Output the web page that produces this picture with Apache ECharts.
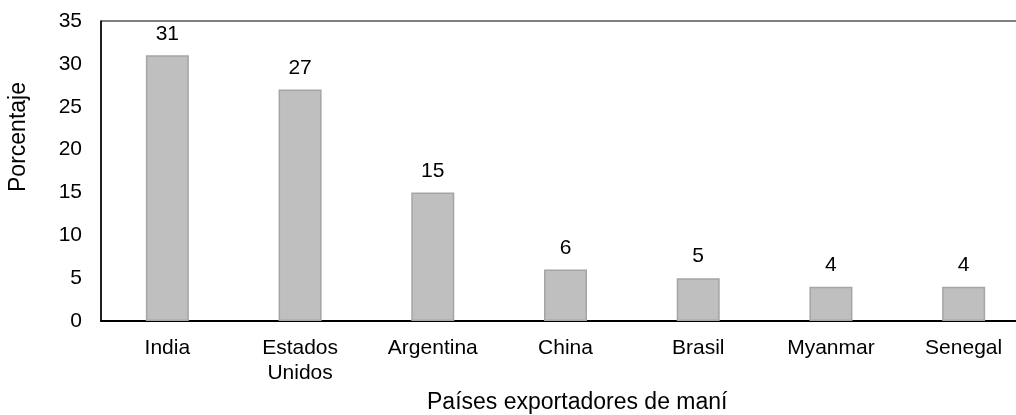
<!DOCTYPE html>
<html><head><meta charset="utf-8">
<script src="https://cdn.jsdelivr.net/npm/echarts@6/dist/echarts.min.js"></script>
<style>html,body{margin:0;padding:0;background:#fff}#c{width:1016px;height:415px}</style>
</head><body><div id="c"></div>
<script>
const categories = ["India", "Estados\nUnidos", "Argentina", "China", "Brasil", "Myanmar", "Senegal"];
const values = [31, 27, 15, 6, 5, 4, 4];
const yTicks = {min: 0, max: 35, interval: 5};
const xTitle = "Países exportadores de maní";
const yTitle = "Porcentaje";

const chart = echarts.init(document.getElementById('c'), null, {renderer: 'canvas'});
const font = 'Liberation Sans, Arial, sans-serif';
chart.setOption({
  animation: false,
  graphic: [
    {type: 'text', left: 427, top: 391, style: {text: xTitle, font: '23px ' + font, fill: '#000'}},
    {type: 'text', x: 19, y: 137, rotation: Math.PI / 2,
     style: {text: yTitle, font: '23px ' + font, fill: '#000', align: 'center', verticalAlign: 'middle'}}
  ],
  grid: {left: 101, top: 21, width: 929, height: 300, outerBoundsMode: 'none', containLabel: false,
         show: true, borderColor: '#000', borderWidth: 1, backgroundColor: 'transparent'},
  xAxis: {
    type: 'category', data: categories,
    axisLine: {lineStyle: {color: '#000', width: 2}},
    axisTick: {show: false},
    axisLabel: {fontFamily: font, fontSize: 21, color: '#000', margin: 15, lineHeight: 25}
  },
  yAxis: {
    type: 'value', min: yTicks.min, max: yTicks.max, interval: yTicks.interval,
    axisLine: {show: true, lineStyle: {color: '#000', width: 1.5}},
    axisTick: {show: false},
    splitLine: {show: false},
    axisLabel: {fontFamily: font, fontSize: 21, color: '#000', margin: 19}
  },
  series: [{
    type: 'bar', data: values, barWidth: '32.4%',
    itemStyle: {color: '#bfbfbf', borderColor: '#a5a5a5', borderWidth: 1.5},
    label: {show: true, position: 'top', distance: 11, fontFamily: font, fontSize: 21, color: '#000'}
  }]
});
</script></body></html>
